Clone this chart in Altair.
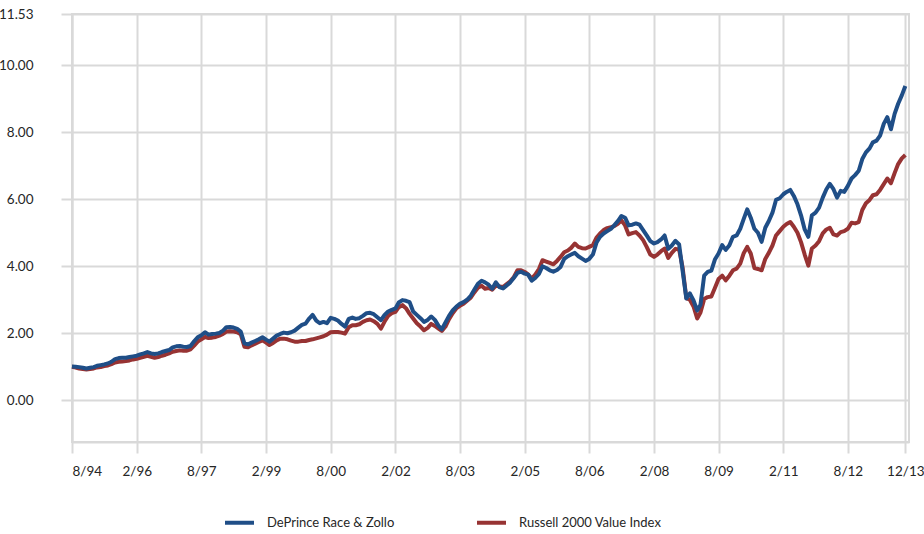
import altair as alt
import pandas as pd

# Monthly growth of $1, Aug 1994 - Dec 2013
start_month = "1994-08-01"
n_months = 233

deprince = [
    1.01, 1.00, 0.99, 0.97, 0.95, 0.97, 0.99, 1.03, 1.05, 1.07,
    1.10, 1.15, 1.23, 1.26, 1.27, 1.27, 1.29, 1.31, 1.33, 1.37,
    1.40, 1.44, 1.40, 1.38, 1.40, 1.44, 1.47, 1.50, 1.58, 1.61,
    1.62, 1.60, 1.59, 1.62, 1.76, 1.88, 1.94, 2.03, 1.96, 1.98,
    1.99, 2.01, 2.08, 2.18, 2.19, 2.17, 2.13, 2.05, 1.70, 1.67,
    1.72, 1.77, 1.82, 1.88, 1.81, 1.75, 1.84, 1.93, 1.98,
    2.02, 2.00, 2.03, 2.08, 2.17, 2.25, 2.29, 2.44, 2.55, 2.38,
    2.30, 2.34, 2.30, 2.46, 2.43, 2.38, 2.28, 2.20, 2.43, 2.47,
    2.43, 2.45, 2.52, 2.60, 2.61, 2.57, 2.48, 2.39, 2.55, 2.65,
    2.70, 2.74, 2.92, 2.99, 2.97, 2.93, 2.65, 2.55, 2.45, 2.34,
    2.40, 2.50, 2.40, 2.22, 2.12, 2.32, 2.52, 2.68, 2.79, 2.88,
    2.93, 3.00, 3.12, 3.30, 3.48, 3.57, 3.52,
    3.45, 3.33, 3.52, 3.38, 3.34, 3.43, 3.52, 3.66, 3.80, 3.84,
    3.78, 3.75, 3.57, 3.65, 3.77, 4.00, 3.95, 3.88, 3.84, 3.89,
    3.98, 4.22, 4.30, 4.35, 4.40, 4.30, 4.23, 4.16, 4.22, 4.35,
    4.70, 4.88, 4.98, 5.05, 5.12, 5.22, 5.35, 5.50, 5.45, 5.22,
    5.24, 5.28, 5.24, 5.08, 4.92, 4.75, 4.68, 4.72, 4.80, 4.92,
    4.52, 4.62, 4.76, 4.65, 3.85, 3.04, 3.19, 2.98, 2.68, 2.85,
    3.72, 3.83, 3.87, 4.20, 4.38, 4.63, 4.49, 4.63, 4.88, 4.92,
    5.12, 5.40, 5.70, 5.45, 5.12, 5.00, 4.73, 5.15, 5.35, 5.60,
    5.98, 6.03, 6.15, 6.22, 6.28, 6.10, 5.85, 5.52, 5.10, 4.88,
    5.52, 5.60, 5.75, 6.05, 6.30, 6.46, 6.30, 6.05, 6.25, 6.22,
    6.40, 6.62, 6.72, 6.85, 7.20, 7.40, 7.52, 7.70, 7.75, 7.90,
    8.25, 8.45, 8.09, 8.55, 8.85, 9.10, 9.38,
]

russell = [
    1.00, 0.98, 0.95, 0.93, 0.92, 0.93, 0.95, 0.98, 0.99, 1.02,
    1.04, 1.08, 1.13, 1.15, 1.16, 1.17, 1.19, 1.22, 1.24, 1.27,
    1.30, 1.33, 1.30, 1.27, 1.29, 1.33, 1.36, 1.40, 1.45, 1.47,
    1.49, 1.48, 1.48, 1.52, 1.63, 1.75, 1.82, 1.89, 1.86, 1.87,
    1.89, 1.93, 1.98, 2.05, 2.06, 2.05, 2.03, 1.97, 1.60, 1.58,
    1.64, 1.69, 1.74, 1.79, 1.72, 1.65, 1.71, 1.79, 1.84,
    1.84, 1.82, 1.78, 1.75, 1.75, 1.77, 1.77, 1.80, 1.82, 1.85,
    1.88, 1.91, 1.96, 2.03, 2.04, 2.04, 2.02, 1.99, 2.18, 2.24,
    2.24, 2.27, 2.34, 2.39, 2.41, 2.36, 2.28, 2.14, 2.35, 2.52,
    2.60, 2.64, 2.78, 2.84, 2.75, 2.58, 2.44, 2.30, 2.20, 2.09,
    2.16, 2.28, 2.22, 2.14, 2.07, 2.20, 2.42, 2.60, 2.74, 2.82,
    2.88, 2.97, 3.06, 3.22, 3.36, 3.42, 3.33,
    3.35, 3.30, 3.42, 3.40, 3.38, 3.47, 3.55, 3.68, 3.88, 3.88,
    3.83, 3.76, 3.63, 3.75, 3.92, 4.18, 4.14, 4.10, 4.06, 4.16,
    4.28, 4.42, 4.47, 4.55, 4.68, 4.58, 4.54, 4.53, 4.58, 4.63,
    4.85, 4.98, 5.08, 5.14, 5.17, 5.20, 5.27, 5.37, 5.22, 4.95,
    4.99, 5.02, 4.92, 4.78, 4.58, 4.35, 4.28, 4.35, 4.45, 4.53,
    4.25, 4.40, 4.52, 4.50, 3.95, 3.05, 3.00, 2.80, 2.44, 2.62,
    3.02, 3.08, 3.10, 3.35, 3.62, 3.72, 3.58, 3.72, 3.88, 3.93,
    4.08, 4.38, 4.58, 4.38, 3.95, 3.92, 3.88, 4.22, 4.40, 4.62,
    4.92, 5.05, 5.18, 5.26, 5.32, 5.18, 5.00, 4.72, 4.35, 4.02,
    4.53, 4.62, 4.75, 4.98, 5.10, 5.15, 4.95, 4.92, 5.02, 5.05,
    5.12, 5.30, 5.28, 5.32, 5.68, 5.88, 5.98, 6.12, 6.15, 6.28,
    6.45, 6.62, 6.48, 6.78, 7.05, 7.22, 7.32,
]

series_names = ["DePrince Race & Zollo", "Russell 2000 Value Index"]
series_colors = ["#1F4E87", "#973333"]

x_ticks = [
    (1994, 8), (1996, 2), (1997, 8), (1999, 2), (2000, 8), (2002, 2), (2003, 8),
    (2005, 2), (2006, 8), (2008, 2), (2009, 8), (2011, 2), (2012, 8), (2013, 12),
]
y_ticks = [0, 2, 4, 6, 8, 10, 11.53]

months = pd.date_range(start_month, periods=n_months, freq="MS").strftime("%Y-%m-%d")
df = pd.concat([
    pd.DataFrame({"date": months, "value": deprince, "series": series_names[0]}),
    pd.DataFrame({"date": months, "value": russell, "series": series_names[1]}),
])

font = "Lato"
grid_color = "#D9D9D9"
text_color = "#262626"

x_enc = alt.X(
    "date:T",
    scale=alt.Scale(
        type="utc",
        domain=[alt.DateTime(year=1994, month=8, date=1, utc=True),
                alt.DateTime(year=2014, month=1, date=1, utc=True)],
    ),
    axis=alt.Axis(
        values=[alt.DateTime(year=y, month=m, date=1, utc=True) for y, m in x_ticks],
        format="%-m/%y",
        title=None,
        grid=True,
        gridColor=grid_color,
        gridWidth=2,
        domainColor=grid_color,
        domainWidth=2,
        tickColor=grid_color,
        tickWidth=2,
        tickSize=11,
        labelPadding=11,
        labelFont=font,
        labelFontSize=13.5,
        labelColor=text_color,
    ),
)

y_enc = alt.Y(
    "value:Q",
    scale=alt.Scale(domain=[-1.245, 11.53], nice=False, zero=False),
    axis=alt.Axis(
        values=y_ticks,
        format=".2f",
        title=None,
        grid=True,
        gridColor=grid_color,
        gridWidth=2,
        domainColor=grid_color,
        domainWidth=2,
        tickColor=grid_color,
        tickWidth=2,
        tickSize=11,
        labelPadding=28,
        labelFont=font,
        labelFontSize=13.5,
        labelColor=text_color,
    ),
)

color_enc = alt.Color(
    "series:N",
    scale=alt.Scale(domain=series_names, range=series_colors),
    legend=alt.Legend(
        title=None,
        orient="none",
        direction="horizontal",
        legendX=151,
        legendY=492,
        symbolType="stroke",
        symbolSize=841,
        symbolStrokeWidth=4,
        labelOffset=11,
        columnPadding=74,
        padding=0,
        labelFont=font,
        labelFontSize=13,
        labelColor=text_color,
    ),
)

base = alt.Chart(df).mark_line(strokeWidth=4, strokeJoin="round").encode(
    x=x_enc, y=y_enc, color=color_enc
)

chart = alt.layer(
    base.transform_filter(alt.datum.series == series_names[1]),
    base.transform_filter(alt.datum.series == series_names[0]),
).properties(
    width=837,
    height=428,
    padding={"left": 72, "top": 14, "right": 15, "bottom": 92},
    autosize="none",
    background="white",
).configure_view(
    stroke=grid_color,
    strokeWidth=2,
)

chart.save("out.html", embed_options={"renderer": "svg", "actions": False})
